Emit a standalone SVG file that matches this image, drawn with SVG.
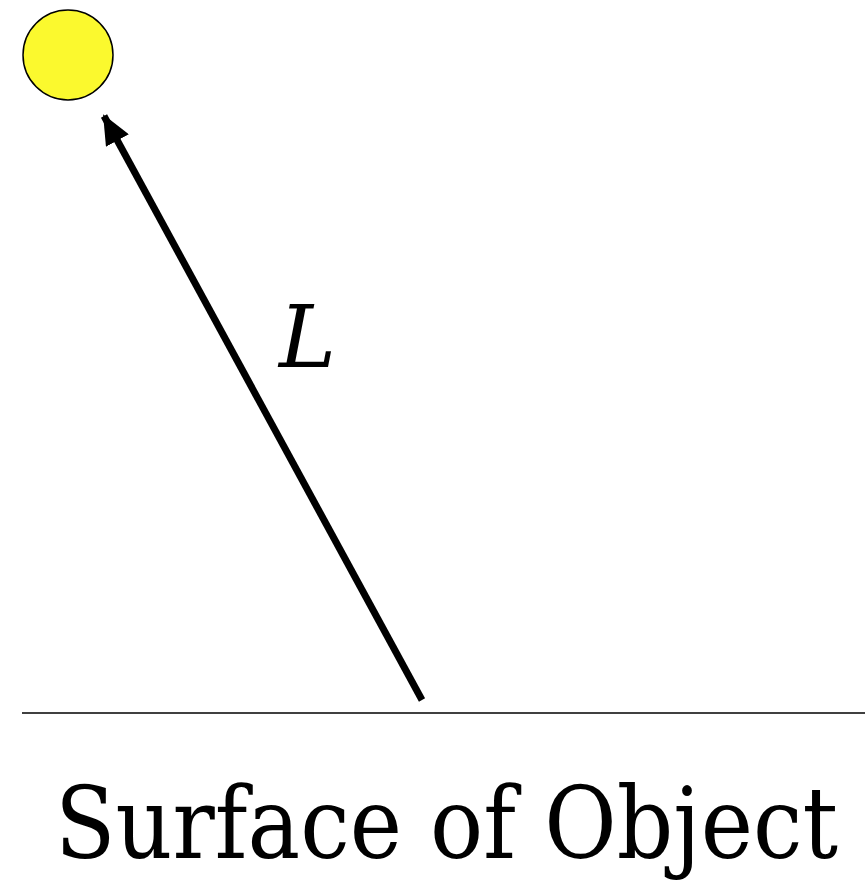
<svg xmlns="http://www.w3.org/2000/svg" width="865" height="881" viewBox="0 0 865 881">
<defs>
<marker id="ah" markerUnits="userSpaceOnUse" markerWidth="32" markerHeight="26" refX="28" refY="13" orient="auto">
<path d="M0,0 L30,13 L0,26 Z" fill="#000"/>
</marker>
</defs>
<rect width="865" height="881" fill="#fff"/>
<g id="light">
<circle cx="68" cy="55" r="45" fill="#fbf92e" stroke="#000" stroke-width="1.5"/>
</g>
<g id="surface">
<line x1="22" y1="713" x2="865" y2="713" stroke="#000" stroke-width="1.5"/>
<text font-family="'DejaVu Serif', serif" x="55" y="858" font-size="100" textLength="783" lengthAdjust="spacingAndGlyphs" fill="#000">Surface of Object</text>
</g>
<g id="connectors">
<line x1="422" y1="700" x2="104" y2="116" stroke="#000" stroke-width="7" marker-end="url(#ah)"/>
<text font-family="'DejaVu Serif', serif" x="279" y="367" font-size="86" font-style="italic" fill="#000">L</text>
</g>
</svg>
